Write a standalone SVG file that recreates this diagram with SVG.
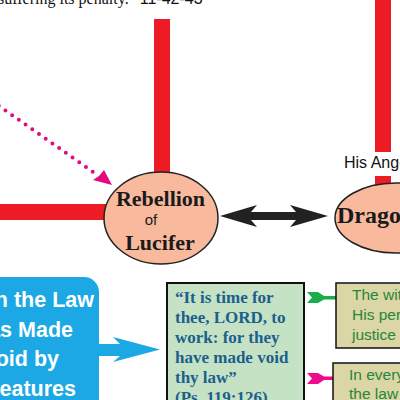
<svg xmlns="http://www.w3.org/2000/svg" width="400" height="400" viewBox="0 0 400 400">
<style>
.bar{fill:#ed1c24}
.ell{fill:#f8b99d;stroke:#222;stroke-width:1.5}
.ser{font-family:"Liberation Serif","Times New Roman",serif;font-weight:bold;fill:#1a1a1a}
.quote{font-family:"Liberation Serif","Times New Roman",serif;font-weight:bold;font-size:17px;fill:#1b5f8d}
.tan{fill:#dcd5a5;stroke:#111;stroke-width:1.5}
.gtxt{font-family:"Liberation Sans",Arial,sans-serif;font-size:15.5px;fill:#24873a}
.btxt{font-family:"Liberation Sans",Arial,sans-serif;font-size:21.5px;font-weight:bold;fill:#fff;text-anchor:end}
</style>
<rect width="400" height="400" fill="#fff"/>
<text x="-2" y="4" font-family="Liberation Serif,serif" font-size="16" fill="#111">suffering its penalty.” <tspan font-family="Liberation Sans,sans-serif">11-42-43</tspan></text>
<g id="connectors">
<rect class="bar" x="154" y="19" width="16" height="156"/>
<rect class="bar" x="375" y="0" width="16" height="152"/>
<rect class="bar" x="375" y="176" width="16" height="10"/>
<rect class="bar" x="0" y="204" width="106" height="16"/>
<line x1="-8" y1="101" x2="96" y2="174" stroke="#e5097f" stroke-width="4" stroke-linecap="round" stroke-dasharray="0 8.2"/>
<polygon points="112,185 93,180 99,176 104,170" fill="#e5097f"/>
<polygon points="220,216 257,205 251,212 296,212 290,205 328,216 290,227 296,220 251,220 257,227" fill="#222"/>
<polygon points="98,344 120,344 113,337 160,349.5 113,362 120,356 98,356" fill="#1ca8e4"/>
<polygon points="307,292 318,292 324,296 336,296 336,299.5 324,299.5 318,303 307,303 312,297.5" fill="#1aae4a"/>
<polygon points="307,373 318,373 324,376.5 334,376.5 334,380 324,380 318,384 307,384 312,378.5" fill="#ec0c8c"/>
</g>
<g id="rebellion">
<ellipse class="ell" cx="161" cy="218" rx="57" ry="46"/>
<text class="ser" x="160.5" y="206" font-size="22" text-anchor="middle">Rebellion</text>
<text x="151" y="225" font-family="Liberation Sans,sans-serif" font-size="15" text-anchor="middle" fill="#1a1a1a">of</text>
<text class="ser" x="160" y="250" font-size="22" text-anchor="middle">Lucifer</text>
</g>
<g id="dragon">
<ellipse class="ell" cx="396" cy="218" rx="61" ry="35"/>
<text class="ser" x="337" y="223" font-size="24">Dragon</text>
<text x="344" y="168" font-family="Liberation Sans,sans-serif" font-size="16" fill="#111">His Angels</text>
</g>
<g id="void">
<rect x="-30" y="277" width="129" height="140" rx="15" fill="#1ca8e4"/>
<text class="btxt" x="94" y="307">When the Law</text>
<text class="btxt" x="73" y="337">Was Made</text>
<text class="btxt" x="59" y="366">Void by</text>
<text class="btxt" x="76" y="396">Creatures</text>
</g>
<g id="psalm">
<rect x="167" y="283" width="137" height="130" fill="#c6e2c4" stroke="#111" stroke-width="2"/>
<text class="quote" x="175" y="303">“It is time for</text>
<text class="quote" x="175" y="323">thee, LORD, to</text>
<text class="quote" x="175" y="343">work: for they</text>
<text class="quote" x="175" y="363">have made void</text>
<text class="quote" x="175" y="383">thy law”</text>
<text class="quote" x="175" y="403">(Ps. 119:126)</text>
</g>
<g id="witness">
<rect class="tan" x="336" y="283" width="70" height="65"/>
<text class="gtxt" x="352" y="300">The witness</text>
<text class="gtxt" x="352" y="320">His perfect</text>
<text class="gtxt" x="352" y="340">justice</text>
</g>
<g id="every">
<rect class="tan" x="333" y="363" width="73" height="50"/>
<text class="gtxt" x="349" y="380">In every</text>
<text class="gtxt" x="349" y="399">the law</text>
</g>
</svg>
